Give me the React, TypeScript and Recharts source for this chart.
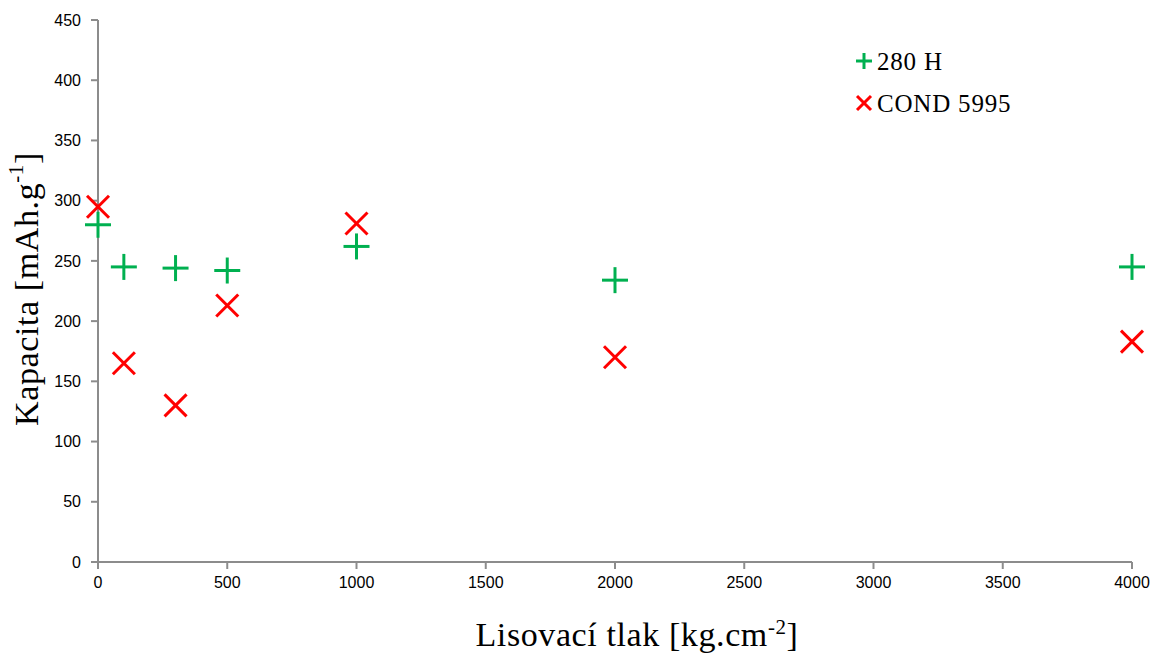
import React from "react";
import { ScatterChart, Scatter, XAxis, YAxis, Label } from "recharts";

const pressures = [0, 100, 300, 500, 1000, 2000, 4000];
const capacity280H = [280, 245, 244, 242, 262, 234, 245];
const capacityCond = [295, 165, 130, 213, 281, 170, 183];
const xTicks = [0, 500, 1000, 1500, 2000, 2500, 3000, 3500, 4000];
const yTicks = [0, 50, 100, 150, 200, 250, 300, 350, 400, 450];

const data280H = pressures.map((p, i) => ({ x: p, y: capacity280H[i] }));
const dataCond = pressures.map((p, i) => ({ x: p, y: capacityCond[i] }));

const GREEN = "#00B050";
const RED = "#FF0000";
const AXIS = "#8c8c8c";

const PlusShape = (props: any) => {
  const { cx, cy } = props;
  const r = 13;
  return (
    <g stroke={GREEN} strokeWidth={3}>
      <line x1={cx - r} y1={cy} x2={cx + r} y2={cy} />
      <line x1={cx} y1={cy - r} x2={cx} y2={cy + r} />
    </g>
  );
};

const CrossShape = (props: any) => {
  const { cx, cy } = props;
  const r = 11;
  return (
    <g stroke={RED} strokeWidth={3}>
      <line x1={cx - r} y1={cy - r} x2={cx + r} y2={cy + r} />
      <line x1={cx - r} y1={cy + r} x2={cx + r} y2={cy - r} />
    </g>
  );
};

// legend drawn on top of the chart, so it takes no room from the plot
const ChartLegend = () => (
  <svg
    width={220}
    height={80}
    style={{ position: "absolute", left: 855, top: 45, overflow: "visible" }}
  >
    <g stroke={GREEN} strokeWidth={3}>
      <line x1={1} y1={16} x2={17} y2={16} />
      <line x1={9} y1={8} x2={9} y2={24} />
    </g>
    <text x={22} y={25} fontFamily="Liberation Serif" fontSize={25} letterSpacing={0.8} fill="#000">
      280 H
    </text>
    <g stroke={RED} strokeWidth={3}>
      <line x1={2} y1={51} x2={16} y2={65} />
      <line x1={2} y1={65} x2={16} y2={51} />
    </g>
    <text x={22} y={67} fontFamily="Liberation Serif" fontSize={25} letterSpacing={0.8} fill="#000">
      COND 5995
    </text>
  </svg>
);

const YTitle = () => {
  const cx = 30;
  const cy = 289;
  return (
    <text
      x={cx}
      y={cy}
      transform={`rotate(-90 ${cx} ${cy})`}
      textAnchor="middle"
      fontFamily="Liberation Serif"
      fontSize={34}
      letterSpacing={0.6}
      fill="#000"
      dominantBaseline="middle"
    >
      Kapacita [mAh.g
      <tspan dy={-12} fontSize={21}>-1</tspan>
      <tspan dy={12}>]</tspan>
    </text>
  );
};

const XTitle = () => (
  <text
    x={637}
    y={646}
    textAnchor="middle"
    fontFamily="Liberation Serif"
    fontSize={34}
    letterSpacing={0.6}
    fill="#000"
  >
    Lisovací tlak [kg.cm
    <tspan dy={-12} fontSize={21}>-2</tspan>
    <tspan dy={12}>]</tspan>
  </text>
);

const tickStyle = { fontFamily: "Liberation Sans", fontSize: 16, fill: "#000" };

export default function App() {
  return (
    <div style={{ position: "relative", width: 1156, height: 657, background: "#fff" }}>
      <style>{`body{margin:0}`}</style>
      <ScatterChart
        width={1156}
        height={657}
        margin={{ top: 20, right: 24, bottom: 0, left: 0 }}
      >
        <XAxis
          type="number"
          dataKey="x"
          domain={[0, 4000]}
          ticks={xTicks}
          interval={0}
          stroke={AXIS}
          strokeWidth={2}
          tickSize={7}
          tick={tickStyle}
          tickMargin={8}
          height={95}
        >
          <Label content={<XTitle />} />
        </XAxis>
        <YAxis
          type="number"
          dataKey="y"
          domain={[0, 450]}
          ticks={yTicks}
          interval={0}
          stroke={AXIS}
          strokeWidth={2}
          tickSize={7}
          tick={tickStyle}
          tickMargin={10}
          width={98}
        >
          <Label content={<YTitle />} />
        </YAxis>
        <Scatter
          name="280 H"
          data={data280H}
          shape={<PlusShape />}
          isAnimationActive={false}
        />
        <Scatter
          name="COND 5995"
          data={dataCond}
          shape={<CrossShape />}
          isAnimationActive={false}
        />
      </ScatterChart>
      <ChartLegend />
    </div>
  );
}
